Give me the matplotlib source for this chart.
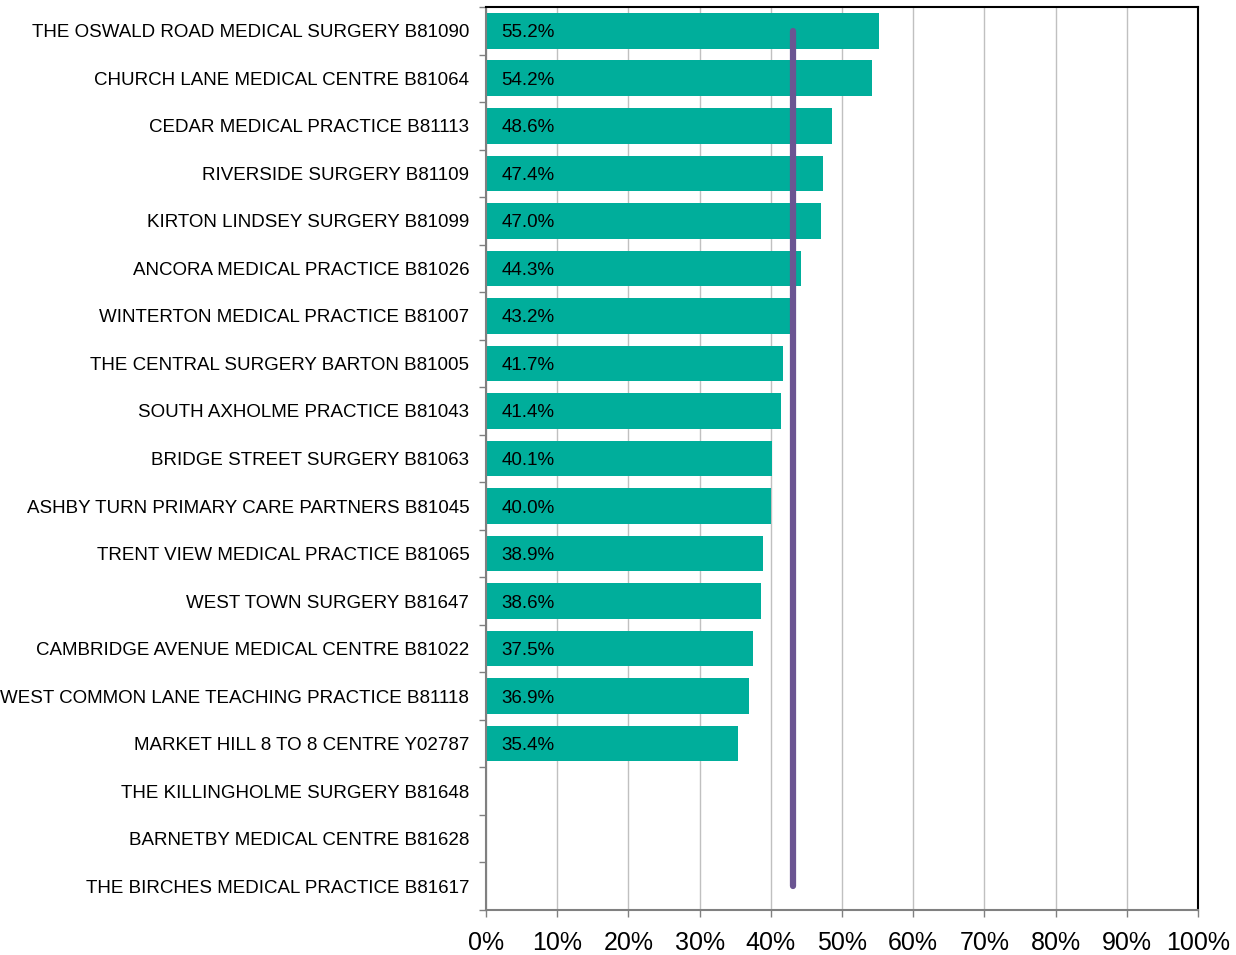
import matplotlib
matplotlib.use("Agg")
import matplotlib.pyplot as plt

practices = [
    "THE OSWALD ROAD MEDICAL SURGERY B81090",
    "CHURCH LANE MEDICAL CENTRE B81064",
    "CEDAR MEDICAL PRACTICE B81113",
    "RIVERSIDE SURGERY B81109",
    "KIRTON LINDSEY SURGERY B81099",
    "ANCORA MEDICAL PRACTICE B81026",
    "WINTERTON MEDICAL PRACTICE B81007",
    "THE CENTRAL SURGERY BARTON B81005",
    "SOUTH AXHOLME PRACTICE B81043",
    "BRIDGE STREET SURGERY B81063",
    "ASHBY TURN PRIMARY CARE PARTNERS B81045",
    "TRENT VIEW MEDICAL PRACTICE B81065",
    "WEST TOWN SURGERY B81647",
    "CAMBRIDGE AVENUE MEDICAL CENTRE B81022",
    "WEST COMMON LANE TEACHING PRACTICE B81118",
    "MARKET HILL 8 TO 8 CENTRE Y02787",
    "THE KILLINGHOLME SURGERY B81648",
    "BARNETBY MEDICAL CENTRE B81628",
    "THE BIRCHES MEDICAL PRACTICE B81617",
]
values = [55.2, 54.2, 48.6, 47.4, 47.0, 44.3, 43.2, 41.7, 41.4, 40.1,
          40.0, 38.9, 38.6, 37.5, 36.9, 35.4, None, None, None]
average = 43.1
xticks = list(range(0, 101, 10))

plt.rcParams['font.family'] = ['Liberation Sans', 'DejaVu Sans']

fig = plt.figure(figsize=(12.36, 9.55), dpi=100)
ax = fig.add_axes([486/1236, 1 - 910/955, (1198-486)/1236, (910-7)/955])

n = len(practices)
ypos = list(range(n))
teal = "#00AE9B"
for y, v in zip(ypos, values):
    if v is not None:
        ax.barh(y, v, height=0.75, color=teal, zorder=2)
        ax.text(2.2, y, f"{v:.1f}%", va="center_baseline", ha="left", fontsize=13.5, color="black", zorder=4)

ax.plot([average, average], [0, n - 1], color="#6B5592", lw=4.5, solid_capstyle="round", zorder=3)

ax.set_xlim(0, 100)
ax.set_ylim(n - 0.5, -0.5)
ax.set_xticks(xticks)
ax.set_xticklabels([f"{t}%" for t in xticks], fontsize=18)
ax.set_yticks(ypos)
ax.set_yticklabels(practices, fontsize=13.5)
ax.set_yticks([i - 0.5 for i in range(n + 1)], minor=True)
ax.tick_params(axis="y", which="major", length=0, pad=12)
ax.tick_params(axis="y", which="minor", length=5, color="#808080", width=1)
ax.tick_params(axis="x", which="major", length=5, color="#808080", width=1, pad=10)
ax.grid(axis="x", color="#C0C0C0", lw=1, zorder=0)
ax.set_axisbelow(True)

for s in ["left", "bottom"]:
    ax.spines[s].set_color("#808080")
    ax.spines[s].set_linewidth(1.5)
for s in ["top", "right"]:
    ax.spines[s].set_color("black")
    ax.spines[s].set_linewidth(1.5)

fig.savefig("out.png", dpi=100)
